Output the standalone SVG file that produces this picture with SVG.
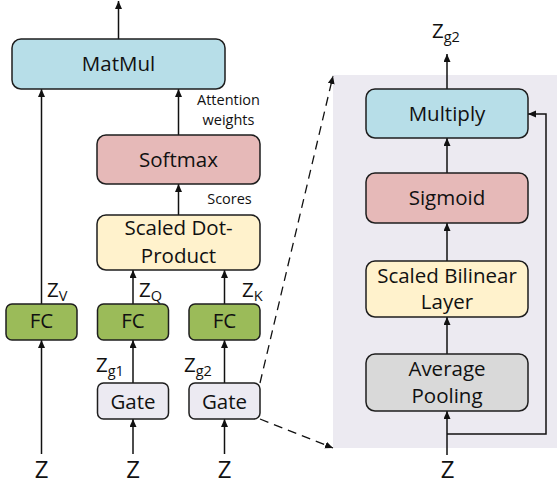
<svg xmlns="http://www.w3.org/2000/svg" width="557" height="488" viewBox="0 0 557 488">
<defs>
<marker id="ah" markerUnits="userSpaceOnUse" markerWidth="9" markerHeight="8" refX="8" refY="3.5" orient="auto">
<path d="M0,0 L8,3.5 L0,7 z" fill="#111"/>
</marker>
</defs>
<style>
.box{stroke:#1e1e1e;stroke-width:1.5}
.blue{fill:#B7DEE8}.red{fill:#E6B9B8}.yel{fill:#FFF2CC}.grn{fill:#9BBB59}.gate{fill:#ECEAF2}.gry{fill:#D9D9D9}
text{font-family:"Open Sans","Noto Sans",sans-serif;fill:#111}
.lbl{font-size:20.5px;text-anchor:middle}
.sm{font-size:14.5px;text-anchor:middle}
.z{font-size:24px;text-anchor:middle}
.zs{font-size:20.5px}
.sub{font-size:14.5px}
.ar{stroke:#111;stroke-width:1.5;fill:none;marker-end:url(#ah)}
.ds{stroke:#111;stroke-width:1.3;fill:none;stroke-dasharray:9 6;marker-end:url(#ah)}
</style>
<rect id="panel" x="333" y="75" width="224" height="373" fill="#ECEAF1"/>
<g id="connectors">
<line class="ar" x1="118.5" y1="39" x2="118.5" y2="1"/>
<line class="ar" x1="41.5" y1="304" x2="41.5" y2="89"/>
<line class="ar" x1="178.5" y1="135" x2="178.5" y2="89"/>
<line class="ar" x1="178.5" y1="215" x2="178.5" y2="184"/>
<line class="ar" x1="133" y1="304" x2="133" y2="270"/>
<line class="ar" x1="224.5" y1="304" x2="224.5" y2="270"/>
<line class="ar" x1="133" y1="383" x2="133" y2="340"/>
<line class="ar" x1="224.5" y1="383" x2="224.5" y2="340"/>
<line class="ar" x1="41.5" y1="454" x2="41.5" y2="340"/>
<line class="ar" x1="133" y1="454" x2="133" y2="419"/>
<line class="ar" x1="224.5" y1="454" x2="224.5" y2="419"/>
<line class="ds" x1="260" y1="383" x2="333" y2="76"/>
<line class="ds" x1="260" y1="419" x2="333" y2="448"/>
<line class="ar" x1="447" y1="89" x2="447" y2="54"/>
<line class="ar" x1="447" y1="173" x2="447" y2="138"/>
<line class="ar" x1="447" y1="261" x2="447" y2="223"/>
<line class="ar" x1="447" y1="354" x2="447" y2="317"/>
<line class="ar" x1="447" y1="455" x2="447" y2="411"/>
<polyline class="ar" points="447,434 546,434 546,114 528,114"/>
</g>
<g id="matmul"><rect class="box blue" x="12" y="39" width="213" height="50" rx="9"/><text class="lbl" x="118.5" y="71">MatMul</text></g>
<g id="softmax"><rect class="box red" x="97" y="135" width="163" height="49" rx="9"/><text class="lbl" x="178.5" y="167">Softmax</text></g>
<g id="attn-label"><text class="sm" x="228.5" y="105">Attention</text><text class="sm" x="228.5" y="125">weights</text></g>
<g id="scores-label"><text class="sm" x="229.5" y="204">Scores</text></g>
<g id="sdp"><rect class="box yel" x="97" y="215" width="163" height="55" rx="9"/><text class="lbl" x="178.5" y="235">Scaled Dot-</text><text class="lbl" x="178.5" y="263">Product</text></g>
<g id="fc-v"><rect class="box grn" x="6" y="304" width="71" height="36" rx="6"/><text class="lbl" x="41.5" y="328">FC</text></g>
<g id="fc-q"><rect class="box grn" x="97.5" y="304" width="71" height="36" rx="6"/><text class="lbl" x="133" y="328">FC</text></g>
<g id="fc-k"><rect class="box grn" x="189" y="304" width="71" height="36" rx="6"/><text class="lbl" x="224.5" y="328">FC</text></g>
<g id="gate1"><rect class="box gate" x="97.5" y="383" width="71" height="36" rx="6"/><text class="lbl" x="133" y="409">Gate</text></g>
<g id="gate2"><rect class="box gate" x="189" y="383" width="71" height="36" rx="6"/><text class="lbl" x="224.5" y="409">Gate</text></g>
<g id="labels">
<text class="zs" x="47" y="297">Z<tspan class="sub" dy="4">V</tspan></text>
<text class="zs" x="139" y="297">Z<tspan class="sub" dy="4">Q</tspan></text>
<text class="zs" x="242" y="297">Z<tspan class="sub" dy="4">K</tspan></text>
<text class="zs" x="96" y="372">Z<tspan class="sub" dy="4">g1</tspan></text>
<text class="zs" x="184" y="372">Z<tspan class="sub" dy="4">g2</tspan></text>
<text class="zs" x="432" y="38">Z<tspan class="sub" dy="4">g2</tspan></text>
<text class="z" x="41.5" y="478">Z</text>
<text class="z" x="133" y="478">Z</text>
<text class="z" x="224.5" y="478">Z</text>
<text class="z" x="447.5" y="478">Z</text>
</g>
<g id="multiply"><rect class="box blue" x="366" y="89" width="162" height="49" rx="9"/><text class="lbl" x="447" y="121">Multiply</text></g>
<g id="sigmoid"><rect class="box red" x="366" y="173" width="162" height="50" rx="9"/><text class="lbl" x="447" y="205">Sigmoid</text></g>
<g id="bilinear"><rect class="box yel" x="366" y="261" width="162" height="56" rx="9"/><text class="lbl" x="447" y="283">Scaled Bilinear</text><text class="lbl" x="447" y="309">Layer</text></g>
<g id="avgpool"><rect class="box gry" x="366" y="354" width="162" height="57" rx="9"/><text class="lbl" x="447" y="376">Average</text><text class="lbl" x="447" y="403">Pooling</text></g>
</svg>
